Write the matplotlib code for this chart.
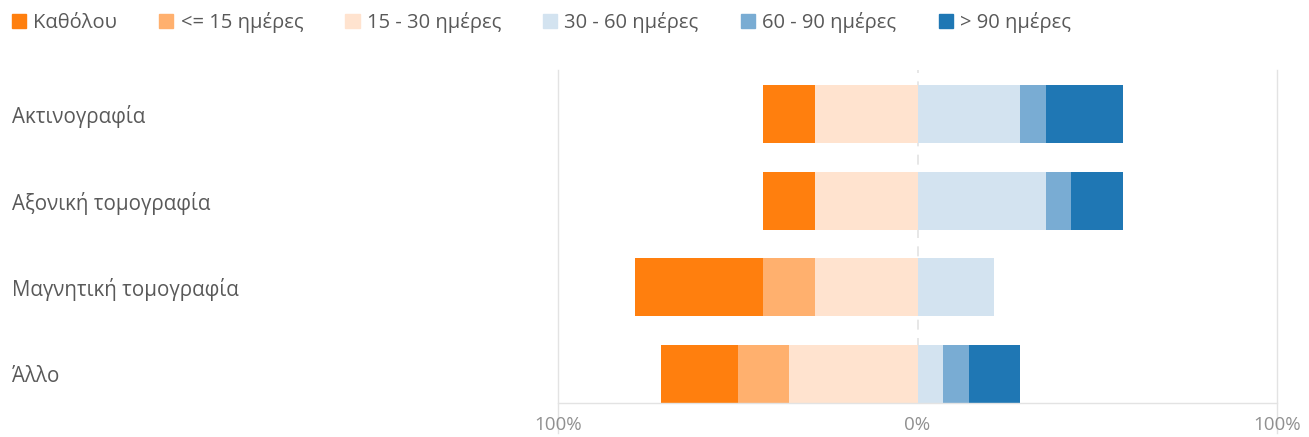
import matplotlib.pyplot as plt
import matplotlib.patches as mpatches
import numpy as np

categories = ['Ακτινογραφία', 'Αξονική τομογραφία', 'Μαγνητική τομογραφία', 'Άλλο']
series = ['Καθόλου', '<= 15 ημέρες', '15 - 30 ημέρες', '30 - 60 ημέρες', '60 - 90 ημέρες', '> 90 ημέρες']
colors = ['#ff7f0e', '#ffb06e', '#ffe3cf', '#d3e3f0', '#79acd3', '#1f77b4']

# percentages per category, in series order
values = np.array([
    [14.3, 0.0, 28.6, 28.6, 7.1, 21.4],
    [14.3, 0.0, 28.6, 35.7, 7.1, 14.3],
    [35.7, 14.3, 28.6, 21.4, 0.0, 0.0],
    [21.4, 14.3, 35.7, 7.1, 7.1, 14.3],
])

plt.rcParams['font.family'] = ['Open Sans', 'DejaVu Sans']
text_color = '#595959'

fig = plt.figure(figsize=(13.09, 4.37), dpi=100)
ax = fig.add_axes([558 / 1309, 34 / 437, 719 / 1309, 333 / 437])

y = np.arange(len(categories))
h = 0.667

# left side: 15-30 next to zero, then <=15, then Καθόλου
left = np.zeros(len(categories))
for i in [2, 1, 0]:
    ax.barh(y, -values[:, i], left=-left, height=h, color=colors[i], linewidth=0)
    left += values[:, i]

# right side: 30-60 next to zero, then 60-90, then >90
right = np.zeros(len(categories))
for i in [3, 4, 5]:
    ax.barh(y, values[:, i], left=right, height=h, color=colors[i], linewidth=0)
    right += values[:, i]

ax.set_xlim(-100, 100)
ax.set_ylim(3 + 29 / 87, -44 / 87)

for s in ax.spines.values():
    s.set_visible(False)
ax.axhline(3 + 29 / 87, color='#e3e3e3', linewidth=1, clip_on=False)
for xv in [-100, 100]:
    ax.axvline(xv, ymin=-0.09, ymax=1, color='#e3e3e3', linewidth=1, clip_on=False, zorder=0)
ax.axvline(0, color='#e3e3e3', linewidth=1.2, linestyle=(0, (6, 5)), zorder=0)

ax.set_xticks([-100, 0, 100])
ax.set_xticklabels(['100%', '0%', '100%'])
ax.tick_params(axis='x', length=0, pad=9, labelsize=13.5, labelcolor='#909090')

ax.set_yticks(y)
ax.set_yticklabels(categories)
ax.tick_params(axis='y', length=0, pad=393, labelsize=14.8, labelcolor=text_color)
for lab in ax.get_yticklabels():
    lab.set_horizontalalignment('left')

handles = [mpatches.Patch(color=c, label=s) for c, s in zip(colors, series)]
leg = fig.legend(handles=handles, loc='upper left', bbox_to_anchor=(0.0, 1.0), ncol=6,
                 frameon=False, handlelength=0.7, handleheight=0.7, handletextpad=0.35,
                 columnspacing=2.1, fontsize=14.5, borderaxespad=0.2)
for t in leg.get_texts():
    t.set_color(text_color)

plt.savefig('out.png', dpi=100)
